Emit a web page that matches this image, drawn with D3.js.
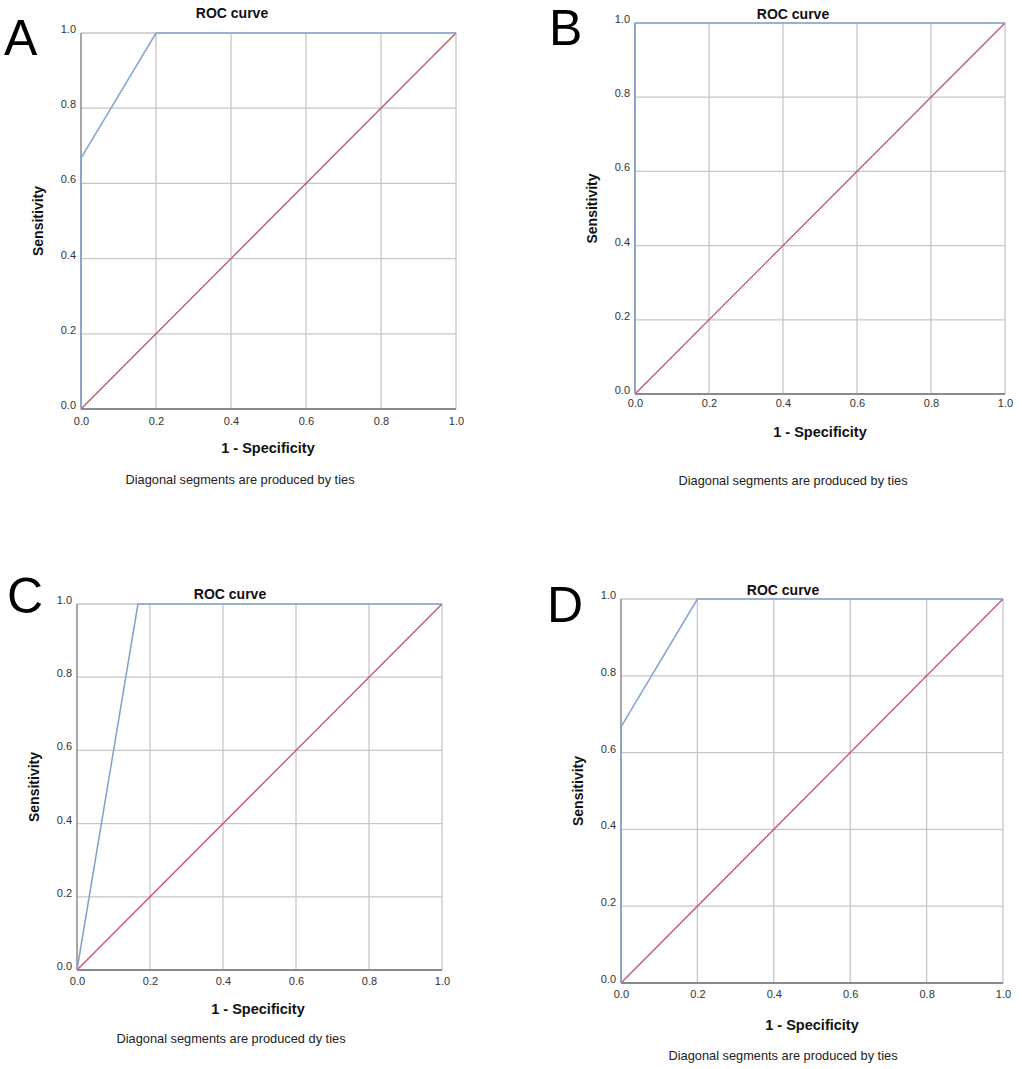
<!DOCTYPE html>
<html>
<head>
<meta charset="utf-8">
<script src="https://cdn.jsdelivr.net/npm/d3@7"></script>
<style>
  html, body { margin: 0; padding: 0; background: #fff; }
  svg { display: block; font-family: "Liberation Sans", Arial, sans-serif; }
</style>
</head>
<body>
<div id="chart"></div>
<script>
// ROC points per panel (1 - specificity, sensitivity)
const fprA = [0, 0, 0.2, 1];
const tprA = [0, 0.667, 1, 1];
const fprB = [0, 0, 1];
const tprB = [0, 1, 1];
const fprC = [0, 0.167, 1];
const tprC = [0, 1, 1];
const fprD = [0, 0, 0.2, 1];
const tprD = [0, 0.667, 1, 1];

// reference line
const refX = [0, 1];
const refY = [0, 1];

const tickValues = [0, 0.2, 0.4, 0.6, 0.8, 1.0];
const panelLetters = ["A", "B", "C", "D"];
const titleText = "ROC curve";
const xLabelText = "1 - Specificity";
const yLabelText = "Sensitivity";
const captions = [
  "Diagonal segments are produced by ties",
  "Diagonal segments are produced by ties",
  "Diagonal segments are produced dy ties",
  "Diagonal segments are produced by ties"
];

// layout for each panel box (pixels in the 1022x1069 page)
const layouts = [
  { l: 81,  r: 456,  t: 33,  b: 409, letter: [4, 55],    title: [232, 18],  xlab: [268, 453],  cap: [240, 484],  tickDy: 16 },
  { l: 635, r: 1005, t: 23,  b: 394, letter: [549, 45],  title: [793, 19],  xlab: [820, 437],  cap: [793, 485],  tickDy: 13 },
  { l: 77,  r: 442,  t: 604, b: 970, letter: [7, 613],   title: [230, 599], xlab: [258, 1014], cap: [231, 1043], tickDy: 15 },
  { l: 621, r: 1003, t: 599, b: 983, letter: [547, 622], title: [783, 595], xlab: [812, 1030], cap: [783, 1060], tickDy: 15 }
];

const panels = [
  { fpr: fprA, tpr: tprA },
  { fpr: fprB, tpr: tprB },
  { fpr: fprC, tpr: tprC },
  { fpr: fprD, tpr: tprD }
];

const width = 1022, height = 1069;
const svg = d3.select("#chart").append("svg")
  .attr("width", width)
  .attr("height", height);

const curveColor = "#87a5d0";
const refColor = "#c9506f";
const gridColor = "#c6c6c6";
const axisColor = "#8a8a8a";

panels.forEach((p, i) => {
  const L = layouts[i];
  const x = d3.scaleLinear().domain([0, 1]).range([L.l, L.r]);
  const y = d3.scaleLinear().domain([0, 1]).range([L.b, L.t]);
  const g = svg.append("g");

  // grid lines
  g.selectAll(".vgrid")
    .data(tickValues.slice(1))
    .enter().append("line")
    .attr("x1", d => x(d)).attr("x2", d => x(d))
    .attr("y1", y(0)).attr("y2", y(1))
    .attr("stroke", gridColor).attr("stroke-width", 1.3);

  g.selectAll(".hgrid")
    .data(tickValues.slice(1))
    .enter().append("line")
    .attr("x1", x(0)).attr("x2", x(1))
    .attr("y1", d => y(d)).attr("y2", d => y(d))
    .attr("stroke", gridColor).attr("stroke-width", 1.3);

  // axes (labels only, lines drawn below)
  const xAxis = g.append("g")
    .attr("transform", `translate(0,${L.b})`)
    .call(d3.axisBottom(x).tickValues(tickValues).tickFormat(d3.format(".1f")).tickSize(0));
  xAxis.select(".domain").remove();
  xAxis.selectAll("text")
    .attr("dy", null)
    .attr("y", L.tickDy)
    .attr("font-size", "11px")
    .attr("font-family", "Liberation Sans, Arial, sans-serif")
    .attr("fill", "#333");

  const yAxis = g.append("g")
    .attr("transform", `translate(${L.l},0)`)
    .call(d3.axisLeft(y).tickValues(tickValues).tickFormat(d3.format(".1f")).tickSize(0));
  yAxis.select(".domain").remove();
  yAxis.selectAll("text")
    .attr("x", -5)
    .attr("dy", "-0.05em")
    .attr("font-size", "11px")
    .attr("font-family", "Liberation Sans, Arial, sans-serif")
    .attr("fill", "#333");

  // axis lines
  g.append("line")
    .attr("x1", x(0)).attr("x2", x(1))
    .attr("y1", y(0)).attr("y2", y(0))
    .attr("stroke", axisColor).attr("stroke-width", 2);
  g.append("line")
    .attr("x1", x(0)).attr("x2", x(0))
    .attr("y1", y(0)).attr("y2", y(1))
    .attr("stroke", axisColor).attr("stroke-width", 1.5);

  // reference diagonal
  const line = d3.line().x(d => x(d[0])).y(d => y(d[1]));
  g.append("path")
    .datum(d3.zip(refX, refY))
    .attr("d", line)
    .attr("fill", "none")
    .attr("stroke", refColor)
    .attr("stroke-width", 1.3);

  // ROC curve
  g.append("path")
    .datum(d3.zip(p.fpr, p.tpr))
    .attr("d", line)
    .attr("fill", "none")
    .attr("stroke", curveColor)
    .attr("stroke-width", 1.6);

  // texts
  g.append("text")
    .attr("x", L.letter[0]).attr("y", L.letter[1])
    .attr("font-size", "50px")
    .attr("fill", "#000")
    .text(panelLetters[i]);

  g.append("text")
    .attr("x", L.title[0]).attr("y", L.title[1])
    .attr("text-anchor", "middle")
    .attr("font-size", "14px")
    .attr("font-weight", "bold")
    .attr("fill", "#111")
    .text(titleText);

  g.append("text")
    .attr("x", L.xlab[0]).attr("y", L.xlab[1])
    .attr("text-anchor", "middle")
    .attr("font-size", "14.5px")
    .attr("font-weight", "bold")
    .attr("fill", "#111")
    .text(xLabelText);

  g.append("text")
    .attr("transform", `translate(${L.l - 38},${(L.t + L.b) / 2}) rotate(-90)`)
    .attr("text-anchor", "middle")
    .attr("font-size", "14px")
    .attr("font-weight", "bold")
    .attr("fill", "#111")
    .text(yLabelText);

  g.append("text")
    .attr("x", L.cap[0]).attr("y", L.cap[1])
    .attr("text-anchor", "middle")
    .attr("font-size", "12.8px")
    .attr("fill", "#222")
    .text(captions[i]);
});
</script>
</body>
</html>
